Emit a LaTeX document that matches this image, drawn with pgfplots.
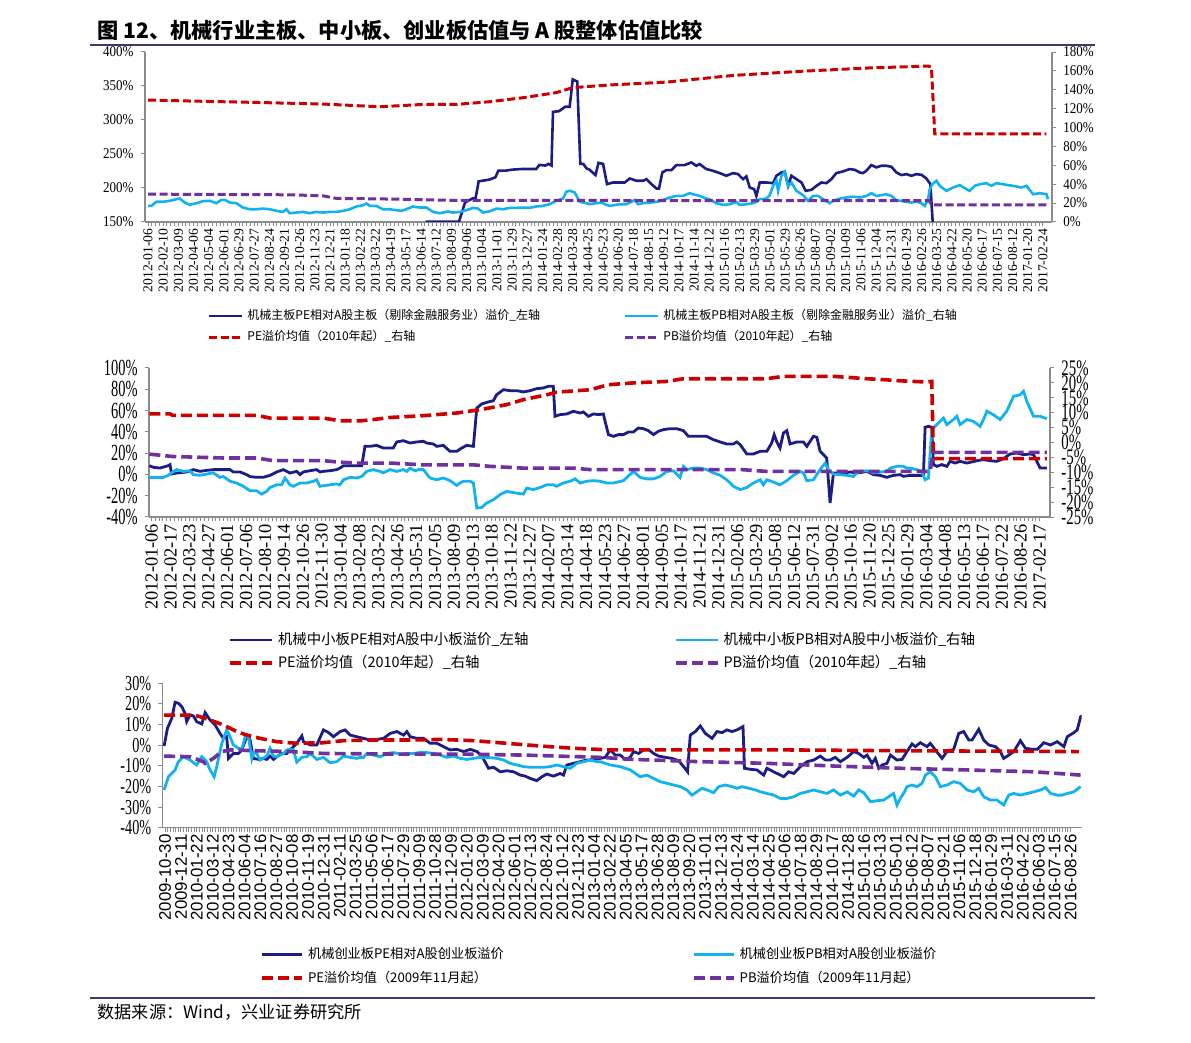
\documentclass[border=0pt]{standalone}
\usepackage{pgfplots}
\pgfplotsset{compat=1.18}
\usepackage{graphicx}
\usepackage{fontspec}
\setmainfont{Liberation Serif}
\newfontfamily\sansf{Liberation Sans}
\newfontfamily\cjk{Noto Sans CJK SC}
\definecolor{navy}{HTML}{1C1C85}
\definecolor{skyb}{HTML}{12B2EE}
\definecolor{dred}{HTML}{CC0000}
\definecolor{purp}{HTML}{7030A0}
\definecolor{axgray}{HTML}{8C8C8C}
\definecolor{rulec}{HTML}{3A3A6E}
\pgfplotsset{
  base/.style={scale only axis, enlargelimits=false, clip=true,
    axis line style={draw=axgray, line width=0.6pt},
    tick style={draw=axgray, line width=0.5pt},
    tick align=outside, major tick length=2.2pt, minor tick length=2.2pt,
    /pgf/number format/assume math mode=true,
    tick label style={black}},
  navyA/.style={navy, line width=1.3pt},
  skyA/.style={skyb, line width=1.3pt},
  redA/.style={dred, line width=1.5pt, dash pattern=on 4pt off 1.8pt},
  purA/.style={purp, line width=1.5pt, dash pattern=on 4pt off 1.8pt},
  navyB/.style={navy, line width=1.4pt},
  skyB/.style={skyb, line width=1.4pt},
  redB/.style={dred, line width=1.8pt, dash pattern=on 5.5pt off 2.5pt},
  purB/.style={purp, line width=1.8pt, dash pattern=on 5.5pt off 2.5pt},
}
\begin{document}
\begin{tikzpicture}
\useasboundingbox (0,0) rectangle (595.5pt,-521.5pt);
\node[anchor=west, font=\cjk\bfseries\fontsize{10.6}{12}\selectfont, inner sep=0pt] at (48.5pt,-15pt) {图 12、机械行业主板、中小板、创业板估值与 A 股整体估值比较};
\draw[rulec, line width=1pt] (45pt,-22.5pt) -- (547.5pt,-22.5pt);
\draw[rulec, line width=1pt] (45pt,-499pt) -- (547.5pt,-499pt);
\node[anchor=west, font=\cjk\fontsize{8.6}{10}\selectfont, inner sep=0pt] at (48.5pt,-506pt) {数据来源：Wind，兴业证券研究所};

% ================= Panel 1 =================
\begin{axis}[base, at={(72.5pt,-111pt)}, anchor=south west, width=453.5pt, height=85pt,
  xmin=-0.2, xmax=59.6, ymin=150, ymax=400, ytick={150,200,...,400},
  axis x line*=bottom, axis y line*=left,
  xtick={0,...,59}, minor x tick num=3,
  xticklabels={2012-01-06,2012-02-10,2012-03-09,2012-04-06,2012-05-04,2012-06-01,2012-06-29,2012-07-27,2012-08-24,2012-09-21,2012-10-26,2012-11-23,2012-12-21,2013-01-18,2013-02-22,2013-03-22,2013-04-19,2013-05-17,2013-06-14,2013-07-12,2013-08-09,2013-09-06,2013-10-04,2013-11-01,2013-11-29,2013-12-27,2014-01-24,2014-02-28,2014-03-28,2014-04-25,2014-05-23,2014-06-20,2014-07-18,2014-08-15,2014-09-12,2014-10-17,2014-11-14,2014-12-12,2015-01-16,2015-02-13,2015-03-29,2015-05-01,2015-05-29,2015-06-26,2015-08-07,2015-09-02,2015-10-09,2015-11-06,2015-12-04,2015-12-31,2016-01-29,2016-02-26,2016-03-25,2016-04-22,2016-05-20,2016-06-17,2016-07-15,2016-08-12,2017-01-20,2017-02-24},
  x tick label style={rotate=90, anchor=east, font=\fontsize{6.8}{7}\selectfont, inner sep=1pt},
  y tick label style={font=\fontsize{6.5}{7}\selectfont},
  yticklabel={\scalebox{1}[1.15]{\pgfmathprintnumber{\tick}\%}}]
\addplot[navyA] coordinates {(18.3,150.4) (20.5,150.4) (20.9,178.7) (21.4,184.6) (21.6,185.5) (21.8,209.8) (22.5,212.3) (22.9,215.7) (23.1,225.6) (23.6,225.6) (24.0,227) (24.7,228) (25.6,228) (25.8,234) (26.2,233) (26.4,235.5) (26.6,233) (26.7,312) (27.1,313) (27.5,319.5) (27.8,319.5) (28.0,359.7) (28.3,356.5) (28.5,235.5) (28.7,235.5) (28.9,229) (29.1,227) (29.5,219) (29.7,237) (30.0,235.5) (30.26,205.7) (30.66,208.1) (31.43,208.1) (31.76,214) (32.2,210.6) (32.64,210.6) (32.86,213) (33.19,205.7) (33.52,199.3) (33.69,199.3) (33.91,222.9) (34.18,226.3) (34.51,226.3) (34.84,233.7) (35.38,233.7) (35.82,237.6) (36.15,232.7) (36.37,235.2) (36.81,227.8) (37.25,225.3) (37.69,221.9) (38.13,218) (38.57,221.9) (38.9,220.4) (39.23,213) (39.45,217) (39.67,200.7) (39.96,198.3) (40.11,188.4) (40.33,208.1) (40.77,208.1) (41.21,207.1) (41.43,218) (41.76,222.9) (41.98,223.9) (42.2,203.2) (42.42,218) (42.75,213) (43.08,208.1) (43.36,195.8) (43.74,197.3) (44.07,203.2) (44.4,208.1) (44.73,207.1) (45.05,213) (45.38,221.9) (45.82,224.4) (46.26,227.8) (46.59,226.8) (46.92,222.9) (47.14,221.9) (47.36,225.3) (47.69,233.7) (48.02,230.3) (48.35,232.7) (48.68,232.7) (49.01,231.2) (49.34,222.9) (49.67,219) (50.0,220.4) (50.33,218) (50.66,220.4) (50.99,219.4) (51.32,214) (51.58,205.7) (51.76,140)};
\end{axis}
\begin{axis}[base, at={(72.5pt,-111pt)}, anchor=south west, width=453.5pt, height=85pt,
  xmin=-0.2, xmax=59.6, ymin=0, ymax=180, ytick={0,20,...,180},
  axis x line=none, axis y line*=right,
  y tick label style={font=\fontsize{6.5}{7}\selectfont},
  yticklabel={\scalebox{1}[1.15]{\pgfmathprintnumber{\tick}\%}},
  legend columns=2, legend cell align=left,
  legend image code/.code={\draw[#1] (0pt,0pt) -- (16.5pt,0pt);},
  legend style={at={(0.0684,-0.488)}, anchor=north west, draw=none, fill=none, inner sep=0pt,
    font=\cjk\fontsize{6}{7}\selectfont, row sep=0pt}]
\addlegendimage{navyA}
\addlegendentry{\makebox[186pt][l]{机械主板PE相对A股主板（剔除金融服务业）溢价\_左轴}}
\addplot[skyA] coordinates {(0,17.1) (0.22,17.1) (0.55,21.4) (0.99,21.4) (1.43,22.4) (1.87,24.2) (2.09,24.9) (2.42,20.6) (2.75,18.2) (3.19,19.9) (3.63,22.1) (4.07,22.4) (4.51,19.9) (4.84,23.5) (5.05,23.5) (5.38,20.6) (5.82,19.9) (6.26,15.3) (6.70,13.5) (7.14,13.5) (7.58,14.2) (8.02,13.5) (8.46,11.8) (8.90,10.7) (9.12,13.5) (9.34,9.3) (9.78,10.0) (10.22,10.7) (10.66,9.3) (11.10,10.7) (11.54,10.0) (11.98,10.7) (12.42,10.7) (12.86,11.8) (13.30,13.5) (13.74,16.4) (14.18,17.8) (14.40,19.6) (14.62,17.1) (15.05,17.1) (15.27,15.3) (15.49,13.5) (15.93,13.5) (16.37,12.5) (16.70,11.8) (17.03,13.5) (17.47,16.4) (17.91,15.3) (18.35,15.3) (18.79,10.7) (19.23,9.3) (19.45,10.0) (19.78,11.1) (20.11,10.0) (20.55,10.7) (20.99,12.5) (21.43,15.0) (21.76,14.2) (22.09,10.0) (22.53,11.4) (22.97,14.2) (23.41,13.5) (23.85,15.0) (24.29,15.0) (24.73,15.3) (25.16,15.0) (25.60,16.4) (26.04,17.1) (26.48,18.9) (26.92,22.4) (27.36,24.9) (27.58,32.0) (27.80,33.1) (28.13,31.3) (28.46,21.4) (28.90,19.9) (29.12,18.9) (29.56,19.9) (29.89,20.6) (30.11,18.9) (30.44,17.0) (31.10,18.8) (31.54,18.8) (31.87,21.3) (32.09,23.4) (32.31,18.8) (32.64,19.9) (33.08,20.6) (33.52,21.3) (33.96,23.4) (34.40,25.9) (34.84,27.6) (35.27,27.6) (35.71,30.5) (35.93,29.4) (36.37,27.6) (36.81,24.8) (37.03,24.1) (37.47,19.9) (37.91,18.1) (38.35,18.8) (38.79,21.3) (39.01,18.1) (39.45,18.8) (39.89,19.9) (40.11,21.3) (40.33,24.1) (40.77,24.8) (40.99,28.4) (41.21,38.3) (41.43,43.6) (41.54,33.0) (41.76,48.9) (41.98,53.2) (42.20,38.3) (42.42,41.8) (42.75,33.0) (43.19,28.4) (43.52,22.3) (43.85,27.6) (44.18,27.6) (44.51,24.1) (44.95,19.9) (45.16,22.3) (45.60,24.8) (46.04,25.9) (46.48,26.9) (46.92,25.9) (47.36,27.6) (47.69,30.5) (48.02,27.6) (48.35,28.4) (48.68,29.4) (49.01,27.6) (49.34,23.0) (49.67,22.3) (50.0,21.3) (50.33,20.6) (50.66,21.6) (50.99,19.9) (51.21,17.0) (51.43,24.1) (51.54,34.7) (51.71,40.0) (51.98,43.6) (52.20,38.3) (52.64,33.0) (53.08,36.5) (53.52,39.0) (53.96,34.7) (54.18,33.0) (54.51,38.3) (54.84,40.0) (55.27,41.1) (55.60,38.3) (55.93,41.1) (56.37,40.0) (56.70,39.0) (57.03,38.3) (57.58,36.5) (57.91,38.3) (58.35,29.4) (58.79,30.5) (59.23,29.4) (59.34,24.1)};
\addlegendentry{机械主板PB相对A股主板（剔除金融服务业）溢价\_右轴}
\addplot[redA] coordinates {(0,129.1) (2.75,128.1) (7.14,126.6) (11.54,124.9) (15.27,122.0) (18.13,124.5) (20.33,124.5) (22.53,127.4) (24.73,131.6) (26.92,137.0) (28.02,142.3) (30.44,145.1) (34.18,148.1) (38.57,155.2) (42.97,159.5) (47.36,163.0) (51.43,165.1) (51.65,164.0) (51.87,93.2) (59.23,93.2)};
\addlegendentry{\makebox[186pt][l]{PE溢价均值（2010年起）\_右轴}}
\addplot[purA] coordinates {(0,29.5) (9.34,28.8) (11.54,27.7) (12.42,25.0) (15.93,24.3) (18.13,23.6) (20.33,22.8) (51.5,22.7) (51.65,18.1) (59.23,18.1)};
\addlegendentry{PB溢价均值（2010年起）\_右轴}
\end{axis}

% ================= Panel 2 =================
\begin{axis}[base, at={(74.5pt,-258.5pt)}, anchor=south west, width=450.5pt, height=74.5pt,
  xmin=-0.14, xmax=47.55, ymin=-40, ymax=100, ytick={-40,-20,...,100},
  axis x line*=bottom, axis y line*=left,
  xtick={0,...,47}, minor x tick num=4,
  xticklabels={2012-01-06,2012-02-17,2012-03-23,2012-04-27,2012-06-01,2012-07-06,2012-08-10,2012-09-14,2012-10-26,2012-11-30,2013-01-04,2013-02-08,2013-03-22,2013-04-26,2013-05-31,2013-07-05,2013-08-09,2013-09-13,2013-10-18,2013-11-22,2013-12-27,2014-02-07,2014-03-14,2014-04-18,2014-05-23,2014-06-27,2014-08-01,2014-09-05,2014-10-17,2014-11-21,2014-12-31,2015-02-06,2015-03-29,2015-05-08,2015-06-12,2015-07-31,2015-09-02,2015-10-16,2015-11-20,2015-12-25,2016-01-29,2016-03-04,2016-04-08,2016-05-13,2016-06-17,2016-07-22,2016-08-26,2017-02-17},
  x tick label style={rotate=90, anchor=east, font=\fontsize{9.2}{10}\selectfont, inner sep=1pt},
  y tick label style={font=\fontsize{7.2}{8}\selectfont},
  yticklabel={\scalebox{1}[1.6]{\pgfmathprintnumber{\tick}\%}}]
\addplot[navyB] coordinates {(-0.12,8.2) (0.09,6.7) (0.44,6.0) (0.88,8.2) (0.97,9.2) (1.06,0.4) (1.32,1.3) (1.85,2.3) (2.21,4.5) (2.56,2.9) (2.91,3.8) (3.26,4.5) (3.79,4.5) (4.15,4.5) (4.32,2.3) (4.68,2.3) (5.03,-0.2) (5.21,-2.1) (5.56,-2.7) (5.91,-2.7) (6.26,-0.9) (6.62,2.3) (6.97,4.5) (7.15,2.9) (7.32,1.3) (7.68,2.9) (7.85,-0.2) (8.03,2.3) (8.38,3.5) (8.73,4.5) (8.91,2.3) (9.09,2.9) (9.44,3.5) (9.79,4.5) (9.97,6.0) (10.15,8.2) (10.85,8.2) (11.12,8.2) (11.29,26.4) (11.56,26.4) (11.91,27.3) (12.26,24.8) (12.79,24.8) (12.97,30.5) (13.32,31.7) (13.68,29.5) (14.03,30.5) (14.38,31.1) (14.56,29.5) (14.91,28.6) (15.09,26.4) (15.44,27.3) (15.79,21.7) (16.15,21.7) (16.41,24.8) (16.68,27.3) (17.03,26.4) (17.21,62.4) (17.47,66.2) (17.73,67.7) (18.09,69.3) (18.26,74.9) (18.62,79.6) (18.97,78.7) (19.32,78.7) (19.68,77.5) (20.03,78.7) (20.38,80.6) (20.73,81.2) (21.00,82.8) (21.26,82.8) (21.35,54.6) (21.62,56.2) (21.97,56.8) (22.32,59.3) (22.68,57.7) (22.85,58.7) (23.12,54.6) (23.38,56.8) (23.65,56.2) (23.91,56.8) (24.0,49.9) (24.18,37.4) (24.44,35.8) (24.71,37.4) (24.97,37.4) (25.24,39.9) (25.50,39.9) (25.76,43.6) (26.03,43.0) (26.29,41.1) (26.56,37.4) (26.82,40.5) (27.09,42.1) (27.44,43.0) (27.79,43.0) (28.15,41.1) (28.41,35.8) (29.03,35.8) (29.38,35.8) (29.73,32.7) (30.09,30.5) (30.44,28.6) (30.79,28.6) (30.97,30.5) (31.15,28.0) (31.50,19.2) (31.85,19.2) (32.21,21.7) (32.56,21.7) (32.82,29.5) (32.95,37.4) (33.09,30.5) (33.26,24.8) (33.44,38.9) (33.62,41.1) (33.79,28.6) (34.15,30.5) (34.50,30.5) (34.68,26.4) (35.03,35.8) (35.21,34.9) (35.38,21.7) (35.56,18.6) (35.73,15.4) (35.91,-26.8) (36.09,1.3) (36.35,1.3) (36.62,1.3) (36.97,2.3) (37.32,1.3) (37.68,2.3) (37.85,2.9) (38.21,-0.2) (38.56,-0.9) (38.91,-2.7) (39.26,-0.9) (39.62,-0.2) (39.79,-1.8) (40.15,-0.9) (40.68,-0.9) (40.85,-0.9) (40.94,44.3) (41.12,45.2) (41.29,44.3) (41.38,9.2) (41.56,7.6) (41.82,9.2) (42.09,7.6) (42.26,12.3) (42.53,10.7) (42.79,12.3) (43.15,10.7) (43.41,11.7) (43.68,12.9) (44.03,13.9) (44.38,12.9) (44.73,12.3) (45.09,14.8) (45.44,19.2) (45.79,20.1) (46.15,18.6) (46.50,19.2) (46.68,18.6) (46.85,12.3) (47.03,6.0) (47.38,6.0)};
\end{axis}
\begin{axis}[base, at={(74.5pt,-258.5pt)}, anchor=south west, width=450.5pt, height=74.5pt,
  xmin=-0.14, xmax=47.55, ymin=-25, ymax=25, ytick={-25,-20,...,25},
  axis x line=none, axis y line*=right,
  y tick label style={font=\fontsize{7.4}{8}\selectfont},
  yticklabel={\scalebox{1}[1.5]{\pgfmathprintnumber{\tick}\%}},
  legend columns=2, legend cell align=left,
  legend image code/.code={\draw[#1] (0pt,0pt) -- (21pt,0pt);},
  legend style={at={(0.0877,-0.745)}, anchor=north west, draw=none, fill=none, inner sep=0pt,
    font=\cjk\fontsize{7.2}{8}\selectfont, row sep=0pt}]
\addlegendimage{navyB}
\addlegendentry{\makebox[196pt][l]{机械中小板PE相对A股中小板溢价\_左轴}}
\addplot[skyB] coordinates {(-0.12,-11.7) (0.62,-11.7) (0.88,-11.0) (1.06,-10.2) (1.32,-9.1) (1.68,-9.7) (2.03,-9.5) (2.21,-10.8) (2.56,-11.0) (2.91,-10.6) (3.26,-10.2) (3.62,-11.7) (3.79,-11.4) (4.15,-13.0) (4.50,-13.6) (4.85,-14.7) (5.21,-16.2) (5.56,-16.2) (5.82,-17.3) (6.09,-16.4) (6.26,-15.1) (6.62,-14.2) (6.88,-14.2) (7.06,-11.9) (7.32,-14.2) (7.50,-14.7) (7.85,-13.6) (8.21,-13.6) (8.56,-13.0) (8.73,-12.5) (8.91,-14.7) (9.09,-14.5) (9.44,-14.2) (9.79,-13.9) (9.97,-14.2) (10.15,-12.5) (10.50,-11.7) (10.85,-11.9) (11.12,-11.4) (11.38,-9.7) (11.73,-9.1) (12.09,-9.7) (12.26,-10.2) (12.62,-9.1) (12.97,-9.7) (13.32,-9.1) (13.50,-9.7) (13.68,-8.6) (13.94,-9.5) (14.12,-9.1) (14.38,-9.1) (14.73,-11.9) (15.09,-12.5) (15.44,-11.9) (15.79,-12.8) (16.15,-14.4) (16.32,-13.6) (16.50,-13.0) (16.85,-13.0) (17.03,-13.6) (17.21,-22.0) (17.47,-21.8) (17.73,-20.3) (18.09,-19.2) (18.44,-17.5) (18.79,-16.4) (19.32,-17.0) (19.68,-17.3) (19.85,-15.3) (20.20,-15.8) (20.56,-15.1) (20.91,-14.2) (21.26,-14.2) (21.44,-14.7) (21.79,-13.6) (22.15,-13.0) (22.41,-12.2) (22.68,-13.6) (23.03,-13.0) (23.38,-12.8) (23.73,-13.0) (24.09,-13.6) (24.44,-13.6) (24.97,-12.8) (25.50,-9.7) (25.85,-11.7) (26.21,-12.2) (26.56,-12.2) (26.91,-11.4) (27.26,-9.7) (27.62,-9.5) (27.97,-11.7) (28.15,-8.0) (28.32,-9.1) (28.68,-8.6) (29.03,-8.6) (29.38,-9.1) (29.73,-10.2) (30.09,-11.0) (30.44,-12.5) (30.79,-14.7) (31.15,-15.8) (31.50,-15.1) (31.85,-13.6) (32.21,-12.5) (32.38,-14.2) (32.56,-12.5) (32.91,-13.3) (33.26,-14.2) (33.62,-12.8) (33.97,-11.0) (34.32,-9.7) (34.50,-10.2) (34.68,-12.8) (35.03,-12.5) (35.38,-9.1) (35.65,-6.9) (35.82,-9.1) (36.0,-10.2) (36.09,-10.6) (36.44,-10.8) (36.79,-11.0) (37.15,-11.4) (37.32,-10.2) (37.50,-9.7) (37.85,-9.5) (38.21,-10.2) (38.56,-9.9) (38.91,-9.7) (39.09,-8.6) (39.44,-8.0) (39.79,-8.0) (39.97,-8.6) (40.15,-8.6) (40.50,-9.1) (40.76,-9.7) (40.94,-12.5) (41.12,-11.9) (41.29,4.3) (41.56,6.0) (41.91,8.2) (42.09,6.0) (42.44,7.7) (42.62,8.8) (42.79,6.0) (43.15,7.7) (43.50,7.1) (43.85,5.4) (44.03,7.7) (44.21,10.5) (44.56,9.3) (44.91,7.7) (45.26,10.5) (45.62,15.5) (45.97,16.0) (46.15,17.2) (46.32,13.8) (46.68,8.8) (47.03,8.8) (47.38,8.0)};
\addlegendentry{机械中小板PB相对A股中小板溢价\_右轴}
\addplot[redB] coordinates {(-0.12,9.6) (0.97,9.6) (1.11,9.1) (5.56,9.1) (6.26,8.2) (9.09,8.2) (9.97,7.3) (11.12,7.3) (11.73,7.7) (12.62,8.4) (14.38,9.0) (16.15,9.9) (17.38,11.0) (18.79,12.7) (19.68,14.4) (20.91,16.0) (21.44,16.9) (23.21,17.7) (24.18,19.4) (25.50,20.0) (27.26,20.5) (28.15,21.4) (32.56,21.4) (33.44,22.2) (36.09,22.2) (37.85,21.4) (38.73,21.1) (39.62,20.7) (41.03,20.3) (41.29,20.5) (41.38,-5.4) (47.38,-5.4)};
\addlegendentry{\makebox[196pt][l]{PE溢价均值（2010年起）\_右轴}}
\addplot[purB] coordinates {(-0.12,-3.9) (1.11,-4.7) (3.79,-5.2) (5.56,-5.2) (6.44,-6.1) (9.09,-6.1) (9.97,-6.6) (10.85,-6.9) (12.62,-6.9) (14.38,-7.5) (17.03,-7.5) (17.90,-8.0) (19.68,-8.6) (22.32,-8.6) (23.21,-9.1) (31.24,-9.1) (32.56,-9.7) (41.20,-9.7) (41.38,-3.3) (47.38,-3.3)};
\addlegendentry{PB溢价均值（2010年起）\_右轴}
\end{axis}

% ================= Panel 3 =================
\begin{axis}[base, at={(81.35pt,-413.85pt)}, anchor=south west, width=459.5pt, height=72.2pt,
  xmin=-0.15, xmax=57.7, ymin=-40, ymax=30, ytick={-40,-30,...,30},
  axis x line*=bottom, axis y line*=left,
  xtick={0,...,57}, minor x tick num=5,
  xticklabels={2009-10-30,2009-12-11,2010-01-22,2010-03-12,2010-04-23,2010-06-04,2010-07-16,2010-08-27,2010-10-08,2010-11-19,2010-12-31,2011-02-11,2011-03-25,2011-05-06,2011-06-17,2011-07-29,2011-09-09,2011-10-28,2011-12-09,2012-01-20,2012-03-09,2012-04-20,2012-06-01,2012-07-13,2012-08-24,2012-10-12,2012-11-23,2013-01-04,2013-02-22,2013-04-05,2013-05-17,2013-06-28,2013-08-09,2013-09-20,2013-11-01,2013-12-13,2014-01-24,2014-03-14,2014-04-25,2014-06-06,2014-07-18,2014-08-29,2014-10-17,2014-11-28,2015-01-16,2015-03-13,2015-05-01,2015-06-12,2015-08-07,2015-09-21,2015-11-06,2015-12-18,2016-01-29,2016-03-11,2016-04-22,2016-06-03,2016-07-15,2016-08-26},
  x tick label style={rotate=90, anchor=east, font=\sansf\fontsize{8.4}{9}\selectfont, inner sep=1pt},
  y tick label style={font=\fontsize{7.1}{8}\selectfont},
  yticklabel={\scalebox{1}[1.5]{\pgfmathprintnumber{\tick}\%}},
  legend columns=2, legend cell align=left,
  legend image code/.code={\draw[#1] (0pt,0pt) -- (20pt,0pt);},
  legend style={at={(0.106,-0.798)}, anchor=north west, draw=none, fill=none, inner sep=0pt,
    font=\cjk\fontsize{6.6}{8}\selectfont, row sep=0.8pt}]
\addplot[navyB] coordinates {(-0.06,-0.4) (0.15,8.2) (0.42,13.0) (0.63,20.8) (0.84,20.3) (1.05,18.7) (1.26,15.4) (1.36,11.4) (1.57,14.6) (1.78,14.2) (1.99,11.4) (2.31,10.3) (2.52,15.8) (2.83,12.2) (3.15,9.8) (3.46,5.7) (3.67,3.3) (3.88,4.1) (3.99,-6.4) (4.30,-4.0) (4.62,-4.0) (4.83,-2.3) (5.14,4.1) (5.35,2.5) (5.56,-6.4) (5.88,-6.9) (6.19,-6.4) (6.40,-6.9) (6.61,-5.3) (6.82,-6.9) (7.03,-5.6) (7.35,-4.0) (7.66,-4.0) (7.98,-1.5) (8.29,0.9) (8.61,4.5) (8.71,1.7) (9.13,0.1) (9.55,0.1) (9.97,7.4) (10.29,6.1) (10.60,4.1) (11.02,6.6) (11.33,7.4) (11.65,4.9) (12.07,4.1) (12.49,3.3) (12.91,2.5) (13.33,2.8) (13.75,3.3) (14.17,5.7) (14.59,6.6) (15.01,4.9) (15.22,6.6) (15.43,4.1) (15.85,3.3) (16.27,3.3) (16.69,0.9) (17.11,0.9) (17.53,-0.7) (17.95,-2.3) (18.37,-2.0) (18.79,-3.1) (19.21,-2.0) (19.63,-3.1) (19.94,-5.3) (20.36,-11.2) (20.68,-10.7) (21.10,-12.9) (21.52,-12.4) (21.94,-12.9) (22.36,-14.5) (22.67,-15.0) (22.98,-16.1) (23.40,-17.2) (23.72,-15.3) (24.03,-14.0) (24.45,-15.0) (24.87,-13.7) (25.08,-14.5) (25.29,-9.6) (25.71,-8.8) (26.13,-8.0) (26.55,-7.2) (26.97,-7.2) (27.39,-6.4) (27.71,-5.9) (28.02,-2.3) (28.34,-4.8) (28.65,-4.8) (28.97,-6.9) (29.28,-5.9) (29.49,-3.1) (29.81,-4.0) (30.12,-2.3) (30.44,-2.0) (30.75,-4.0) (31.07,-5.3) (31.49,-5.9) (31.90,-6.4) (32.33,-7.5) (32.64,-10.4) (32.89,-12.9) (33.06,4.9) (33.38,6.6) (33.69,9.3) (34.01,5.7) (34.43,3.3) (34.74,6.6) (35.06,6.1) (35.37,7.4) (35.69,6.6) (36.0,7.4) (36.38,9.0) (36.47,-11.2) (36.85,-11.7) (37.26,-12.0) (37.68,-14.5) (37.89,-11.2) (38.31,-12.9) (38.73,-14.5) (38.94,-15.3) (39.25,-12.9) (39.57,-13.7) (39.99,-10.4) (40.41,-8.0) (40.83,-7.2) (41.25,-5.3) (41.56,-7.2) (41.87,-7.2) (42.18,-5.9) (42.51,-8.0) (42.93,-5.9) (43.35,-3.1) (43.66,-4.0) (43.98,-5.9) (44.19,-4.8) (44.50,-8.8) (44.71,-6.4) (44.92,-11.2) (45.13,-9.6) (45.44,-8.8) (45.66,-4.8) (46.07,-7.2) (46.39,-6.9) (46.70,-3.1) (47.02,0.6) (47.23,-0.7) (47.54,1.2) (47.96,-0.7) (48.17,0.9) (48.49,-2.3) (48.91,-6.4) (49.22,-3.1) (49.64,-2.0) (49.96,5.7) (50.27,6.6) (50.59,2.5) (50.80,2.5) (51.22,7.7) (51.53,2.5) (51.85,0.1) (52.27,-0.7) (52.58,-3.1) (52.79,-6.4) (53.11,-4.8) (53.42,-3.1) (53.84,2.2) (54.16,-1.5) (54.58,-2.0) (54.90,-2.0) (55.32,1.2) (55.74,0.1) (56.16,1.7) (56.58,-0.7) (56.79,4.1) (57.21,6.1) (57.42,7.4) (57.63,13.8) (57.73,14.2)};
\addlegendentry{\makebox[190pt][l]{机械创业板PE相对A股创业板溢价}}
\addplot[skyB] coordinates {(-0.06,-21.7) (0.21,-15.3) (0.42,-13.7) (0.63,-12.0) (0.84,-8.0) (1.15,-5.6) (1.36,-6.4) (1.57,-7.2) (1.99,-9.6) (2.31,-5.6) (2.62,-8.0) (2.83,-12.0) (3.09,-15.3) (3.25,-10.4) (3.57,0.9) (3.88,7.4) (4.09,4.1) (4.30,0.1) (4.62,-1.5) (4.83,-2.0) (5.04,4.1) (5.25,4.1) (5.46,-6.4) (5.56,-3.6) (5.77,-4.0) (5.98,-7.2) (6.40,-5.3) (6.61,-1.5) (6.82,-5.3) (7.03,-5.6) (7.45,-4.0) (7.66,-2.3) (7.87,-2.0) (8.08,-2.3) (8.29,-8.2) (8.61,-5.9) (8.92,-5.6) (9.13,-4.0) (9.55,-6.9) (9.97,-5.9) (10.39,-8.5) (10.81,-8.0) (11.23,-5.3) (11.65,-5.9) (12.07,-6.4) (12.28,-5.9) (12.49,-5.9) (12.70,-4.0) (13.12,-4.8) (13.54,-5.6) (13.96,-4.0) (14.38,-3.6) (14.80,-4.3) (15.22,-4.0) (15.64,-4.0) (16.06,-3.5) (16.48,-3.6) (16.90,-4.0) (17.32,-4.8) (17.74,-5.9) (18.16,-5.3) (18.58,-6.4) (19.0,-6.9) (19.42,-6.4) (19.84,-5.9) (20.26,-5.9) (20.89,-6.4) (21.31,-7.2) (21.73,-8.8) (22.15,-9.6) (22.57,-10.4) (22.98,-10.7) (23.40,-10.7) (23.82,-10.7) (24.24,-10.4) (24.66,-9.6) (25.08,-10.4) (25.50,-11.2) (25.92,-8.8) (26.34,-8.0) (26.76,-7.2) (27.18,-8.0) (27.39,-8.0) (27.71,-8.8) (28.02,-9.6) (28.65,-10.4) (29.28,-12.0) (29.91,-15.3) (30.33,-14.5) (30.75,-16.1) (31.17,-17.7) (31.59,-18.5) (32.01,-19.3) (32.43,-20.1) (32.85,-21.7) (33.17,-24.2) (33.48,-22.6) (33.80,-20.9) (34.11,-21.7) (34.53,-23.0) (34.85,-20.1) (35.27,-19.3) (35.69,-20.1) (36.0,-20.9) (36.32,-20.1) (36.74,-20.9) (37.16,-21.7) (37.47,-22.6) (37.89,-23.4) (38.31,-24.2) (38.73,-25.8) (39.15,-25.8) (39.57,-25.0) (39.99,-23.4) (40.41,-22.6) (40.83,-21.7) (41.25,-22.6) (41.66,-23.4) (42.08,-21.7) (42.51,-24.2) (42.93,-22.6) (43.35,-24.7) (43.66,-21.7) (43.98,-23.0) (44.40,-27.4) (44.82,-26.9) (45.24,-26.6) (45.55,-25.0) (45.86,-23.4) (46.07,-29.0) (46.28,-25.8) (46.49,-23.4) (46.70,-20.1) (47.02,-19.3) (47.33,-20.1) (47.65,-18.5) (47.86,-14.5) (48.17,-12.9) (48.49,-15.3) (48.80,-20.1) (49.22,-19.3) (49.64,-17.7) (50.06,-18.5) (50.48,-21.7) (50.90,-22.6) (51.22,-20.9) (51.53,-25.0) (51.95,-26.6) (52.37,-26.6) (52.79,-29.0) (53.11,-24.2) (53.42,-23.4) (53.84,-24.2) (54.27,-23.4) (54.69,-22.6) (55.11,-21.7) (55.42,-20.5) (55.74,-23.4) (56.16,-24.2) (56.47,-24.2) (56.79,-23.4) (57.21,-22.6) (57.63,-20.1)};
\addlegendentry{机械创业板PB相对A股创业板溢价}
\addplot[redB] coordinates {(-0.06,14.6) (1.78,14.6) (2.20,13.8) (2.83,12.2) (3.67,9.8) (4.51,6.6) (5.14,4.9) (5.98,3.3) (7.03,1.7) (8.29,0.9) (9.97,1.2) (11.23,2.2) (12.91,2.5) (15.43,2.5) (17.32,2.8) (19.42,2.2) (21.52,0.9) (23.61,-0.4) (25.71,-1.5) (28.02,-2.3) (39.15,-2.3) (46.28,-2.7) (57.52,-3.1)};
\addlegendentry{\makebox[190pt][l]{PE溢价均值（2009年11月起）}}
\addplot[purB] coordinates {(-0.06,-5.3) (1.57,-5.6) (2.41,-8.0) (2.52,-8.8) (3.04,-6.4) (3.57,-3.1) (4.09,-2.3) (5.77,-2.7) (7.87,-3.1) (9.97,-4.0) (14.17,-4.3) (18.37,-4.3) (22.57,-4.8) (27.39,-5.9) (29.49,-6.9) (33.69,-8.0) (37.89,-8.8) (42.08,-10.1) (46.28,-11.2) (50.48,-12.0) (54.69,-12.9) (57.63,-14.5)};
\addlegendentry{PB溢价均值（2009年11月起）}
\end{axis}
\end{tikzpicture}
\end{document}
